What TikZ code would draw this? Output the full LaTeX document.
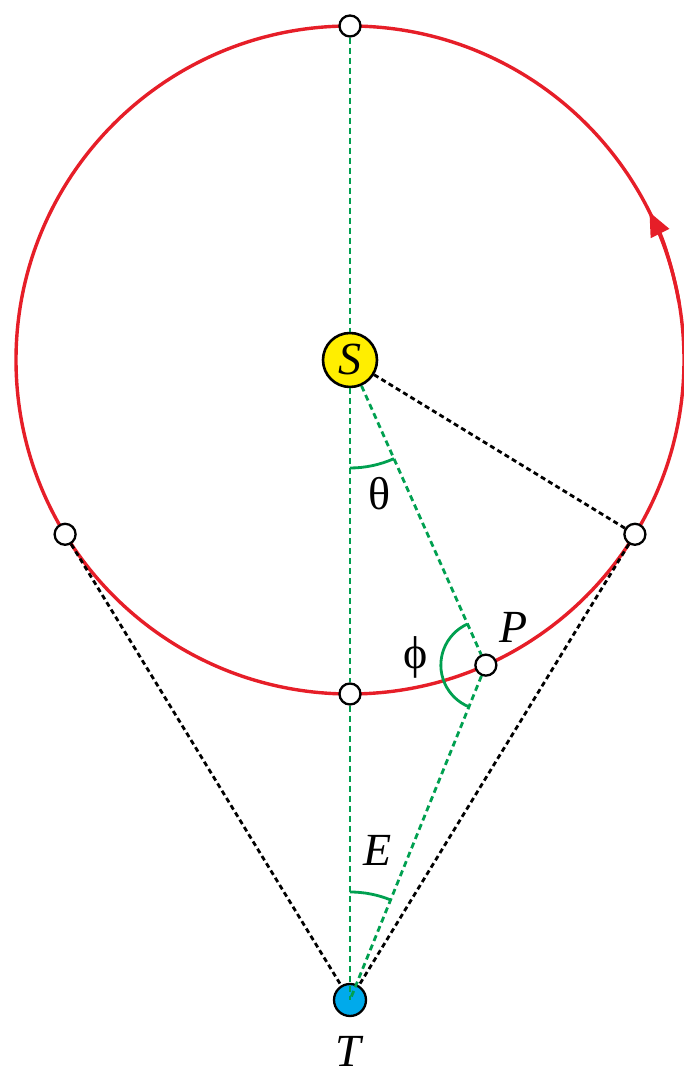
\documentclass[tikz,border=0pt]{standalone}
\usepackage{fontspec}
\setmainfont{Liberation Serif}
\usetikzlibrary{arrows.meta,calc}
\definecolor{orbred}{RGB}{230,30,40}
\definecolor{anggreen}{RGB}{0,160,80}
\definecolor{sunyellow}{RGB}{255,238,0}
\definecolor{earthblue}{RGB}{0,170,235}
\begin{document}
\begin{tikzpicture}[x=1pt,y=1pt,
 dotnode/.style={circle,draw=black,fill=white,line width=2.3pt,minimum size=21pt,inner sep=0pt},
 orbit/.style={draw=orbred,line width=3.4pt},
 gdash/.style={draw=anggreen,line width=2.8pt,dash pattern=on 6pt off 4pt},
 kdash/.style={draw=black,line width=2.8pt,dash pattern=on 5pt off 3.5pt},
 angarc/.style={draw=anggreen,line width=2.8pt},
 lab/.style={font=\fontsize{46}{52}\selectfont,inner sep=0pt}]
\useasboundingbox (0,0) rectangle (684,1075);
\coordinate (C) at (350,715);
\draw[orbit] (C) circle (334);
\draw[orbit,-{Triangle[length=24pt,width=20pt]}] (C) ++(10:334) arc (10:26.3:334);
\node[dotnode] (top) at ($(C)+(90:334)$) {};
\node[dotnode] (bot) at ($(C)+(270:334)$) {};
\node[dotnode] (L) at ($(C)+(211.46:334)$) {};
\node[dotnode] (R) at ($(C)+(328.54:334)$) {};
\node[dotnode] (P) at ($(C)+(294:334)$) {};
\node[circle,draw=black,fill=sunyellow,line width=2.6pt,minimum size=54pt,inner sep=0pt,font=\fontsize{46}{52}\selectfont] (S) at (C) {\textit{S}};
\node[circle,draw=black,fill=earthblue,line width=2.3pt,minimum size=32pt,inner sep=0pt] (T) at (350,75) {};
\draw[gdash] (top) -- (S);
\draw[gdash] (S) -- (bot);
\draw[gdash] (bot) -- (T.center);
\draw[gdash] (S) -- (P);
\draw[gdash] (P) -- (T.center);
\draw[kdash] (S) -- (R);
\draw[kdash] (L) -- (T);
\draw[kdash] (R) -- (T);
\draw[angarc] (C) ++(270:108) arc (270:294:108);
\draw[angarc] (P.center) ++(114:45) arc (114:247.93:45);
\draw[angarc] (T.center) ++(90:108) arc (90:67.93:108);
\node[lab] (thl) at (380,581) {θ};
\node[lab] (phl) at (416,418) {ϕ};
\node[lab] (Pl) at (514,448) {\textit{P}};
\node[lab] (El) at (378,225) {\textit{E}};
\node[lab] (Tl) at (350,24) {\textit{T}};
\end{tikzpicture}
\end{document}
